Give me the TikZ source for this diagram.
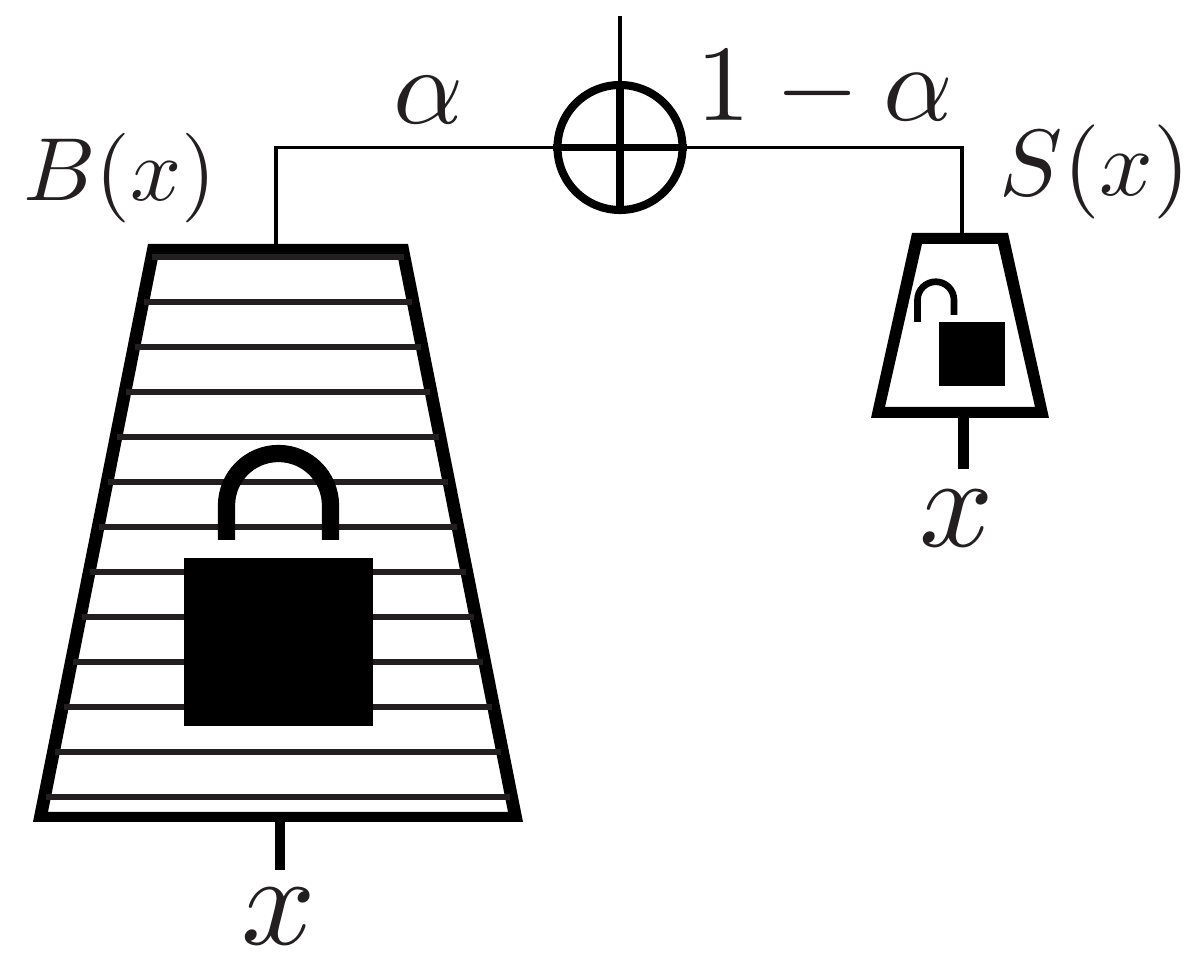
\documentclass[tikz,border=0pt]{standalone}
\usepackage{amsmath}
\usepackage{xcolor}
\definecolor{lockblack}{RGB}{0, 0, 0}
\definecolor{inkdark}{RGB}{35, 31, 32}
\usetikzlibrary{calc}
\tikzset{
    wire/.style={line width=1.0pt, draw=lockblack},
    rung/.style={line width=1.5pt, draw=inkdark},
    stem/.style={line width=3.1pt, draw=lockblack},
    mathlabel/.style={text=inkdark, inner sep=0pt}
}

\begin{document}
\begin{tikzpicture}

\useasboundingbox (0, 0) rectangle (11.89, -9.54);

% === Suma ===
\node[circle, draw=lockblack, line width=2.3pt, minimum size=1.25cm, inner sep=0pt] (sum) at (6.20, -1.475) {};
\draw[line width=2.0pt, lockblack] (sum.west) -- (sum.east);
\draw[line width=2.0pt, lockblack] (sum.north) -- (sum.south);
\coordinate (sumout) at (6.20, -0.16);
\coordinate (bigtop) at (2.76, -2.44);
\coordinate (smalltop) at (9.62, -2.33);
\draw[wire] (sum.north) -- (sumout);
\draw[wire] (sum.west) -| (bigtop);
\draw[wire] (sum.east) -| (smalltop);

% === Bloque grande ===
\fill[lockblack, even odd rule]
    (1.48, -2.44) -- (4.08, -2.44) -- (5.23, -8.22) -- (0.33, -8.22) -- cycle
    (1.58, -2.58) -- (3.98, -2.58) -- (5.08, -8.12) -- (0.48, -8.12) -- cycle;

% Lineas
\foreach \y in {2.57, 3.02, 3.47, 3.92, 4.37, 4.82, 5.27, 5.72, 6.17, 6.62, 7.07, 7.52, 7.97} {
    \pgfmathsetmacro{\xl}{1.55 - 0.197*(\y - 2.44)}
    \pgfmathsetmacro{\xr}{5.56 - \xl}
    \draw[rung] (\xl, -\y) -- (\xr, -\y);
}

% Candado cerrado
\fill[lockblack] (1.84, -5.58) rectangle (3.73, -7.26);
\draw[line width=4.9pt, lockblack] (2.265, -5.40) -- (2.265, -5.055) arc (180:0:0.52cm) -- (3.305, -5.40);

% Entrada
\coordinate (bigbase) at (2.80, -8.22);
\coordinate (bigend) at (2.80, -8.70);
\draw[stem] (bigbase) -- (bigend);

% === Bloque chico ===
\fill[lockblack, even odd rule]
    (9.12, -2.33) -- (10.08, -2.33) -- (10.49, -4.18) -- (8.71, -4.18) -- cycle
    (9.22, -2.44) -- (9.98, -2.44) -- (10.35, -4.07) -- (8.85, -4.07) -- cycle;

% Candado abierto
\fill[lockblack] (9.39, -3.22) rectangle (10.05, -3.86);
\draw[line width=1.9pt, lockblack] (9.175, -3.22) -- (9.175, -3.00) arc (180:0:0.1825cm) -- (9.54, -3.15);

% Entrada
\coordinate (smallbase) at (9.635, -4.18);
\coordinate (smallend) at (9.635, -4.69);
\draw[stem] (smallbase) -- (smallend);

% === Etiquetas ===
\node[mathlabel, scale=2.55] (bigname) at (1.20, -1.78) {$B(x)$};
\node[mathlabel, scale=2.68] (smallname) at (10.95, -1.72) {$S(x)$};
\node[mathlabel, scale=3.1] (weightleft) at (4.285, -1.00) {$\alpha$};
\node[mathlabel, scale=3.08] (weightright) at (8.25, -0.90) {$1 - \alpha$};
\node[mathlabel, scale=3.7] (bigin) at (2.79, -9.165) {$x$};
\node[mathlabel, scale=3.7] (smallin) at (9.57, -5.19) {$x$};

\end{tikzpicture}
\end{document}
